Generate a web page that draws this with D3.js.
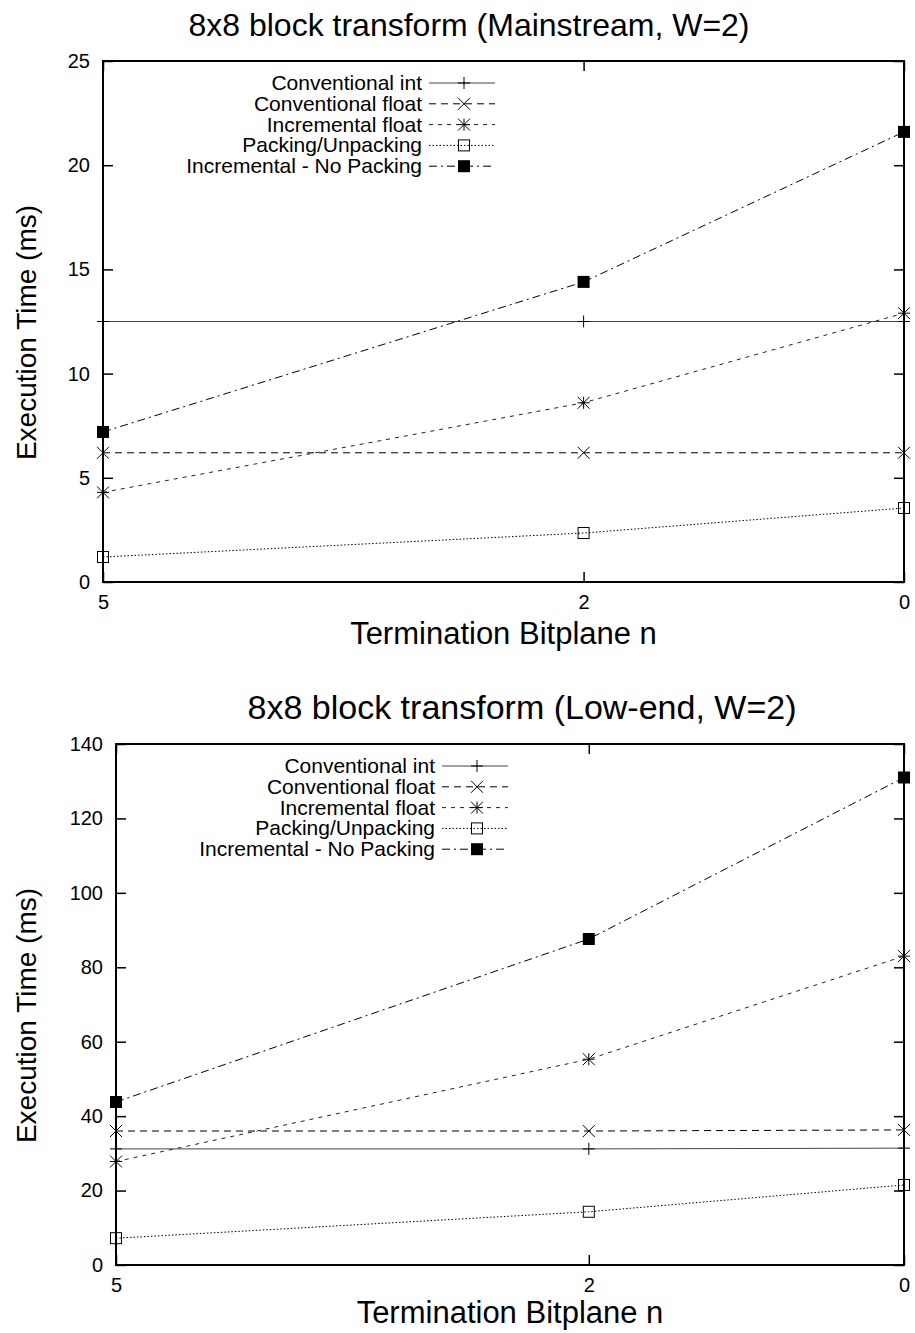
<!DOCTYPE html>
<html><head><meta charset="utf-8">
<script src="https://cdn.jsdelivr.net/npm/d3@7"></script>
<style>body{margin:0;background:#fff}svg{display:block;font-family:"Liberation Sans",Arial,sans-serif}</style>
</head><body><svg id="c" width="915" height="1333"></svg>
<script>
const xValues = [5, 2, 0];
const xTicks = [5, 2, 0];
const seriesNames = ["Conventional int","Conventional float","Incremental float","Packing/Unpacking","Incremental - No Packing"];
const topTitle = "8x8 block transform (Mainstream, W=2)";
const topConvInt = [12.5, 12.5, 12.5];
const topConvFloat = [6.2, 6.2, 6.2];
const topIncrFloat = [4.3, 8.6, 12.9];
const topPacking = [1.2, 2.35, 3.55];
const topIncrNoPack = [7.2, 14.4, 21.6];
const topYTicks = [0,5,10,15,20,25];
const botTitle = "8x8 block transform (Low-end, W=2)";
const botConvInt = [31.2, 31.2, 31.4];
const botConvFloat = [36, 36, 36.3];
const botIncrFloat = [27.8, 55.3, 83];
const botPacking = [7.2, 14.3, 21.5];
const botIncrNoPack = [43.8, 87.6, 131];
const botYTicks = [0,20,40,60,80,100,120,140];

const styles = [
  {dash:null, marker:"plus", stroke:"#444"},
  {dash:"7,5", marker:"cross", stroke:"#000"},
  {dash:"4,5", marker:"star", stroke:"#222"},
  {dash:"1.5,2", marker:"openSquare", stroke:"#000"},
  {dash:"8,4,2,4", marker:"filledSquare", stroke:"#000"}
];

const svg = d3.select("#c");

function marker(g, type, x, y){
  const s = 6;
  if(type==="plus"){
    g.append("path").attr("d",`M${x-s},${y}H${x+s}M${x},${y-s}V${y+s}`).attr("stroke","#000").attr("stroke-width",1).attr("fill","none");
  } else if(type==="cross"){
    g.append("path").attr("d",`M${x-s},${y-s}L${x+s},${y+s}M${x-s},${y+s}L${x+s},${y-s}`).attr("stroke","#000").attr("stroke-width",1).attr("fill","none");
  } else if(type==="star"){
    g.append("path").attr("d",`M${x-s},${y}H${x+s}M${x},${y-s}V${y+s}M${x-s},${y-s}L${x+s},${y+s}M${x-s},${y+s}L${x+s},${y-s}`).attr("stroke","#000").attr("stroke-width",1).attr("fill","none");
  } else if(type==="openSquare"){
    g.append("rect").attr("x",x-5.5).attr("y",y-5.5).attr("width",11).attr("height",11).attr("fill","none").attr("stroke","#000").attr("stroke-width",1);
  } else {
    g.append("rect").attr("x",x-6).attr("y",y-6).attr("width",12).attr("height",12).attr("fill","#000");
  }
}

function chart(opts){
  const {left,right,top,bottom,ymax,yTicks,title,titleX,titleSize,series,titleY,xlabY,legY} = opts;
  const x = d3.scaleLinear().domain([5,0]).range([left,right]);
  const y = d3.scaleLinear().domain([0,ymax]).range([bottom,top]);
  const g = svg.append("g");
  g.append("text").attr("x",titleX).attr("y",titleY).attr("text-anchor","middle").attr("font-size",titleSize).attr("fill","#000").text(title);
  const yl = d3.axisLeft(y).tickValues(yTicks).tickSize(-10).tickPadding(13);
  const ya = g.append("g").attr("transform",`translate(${left},0)`).call(yl);
  const yr = g.append("g").attr("transform",`translate(${right},0)`).call(d3.axisRight(y).tickValues(yTicks).tickSize(-10).tickFormat(""));
  const xb = g.append("g").attr("transform",`translate(0,${bottom})`).call(d3.axisBottom(x).tickValues(xTicks).tickSize(-10).tickPadding(13).tickFormat(d3.format("d")));
  const xt = g.append("g").attr("transform",`translate(0,${top})`).call(d3.axisTop(x).tickValues(xTicks).tickSize(-10).tickFormat(""));
  [ya,yr,xb,xt].forEach(a=>{a.select(".domain").remove();a.selectAll("line").attr("stroke","#000").attr("stroke-width",1.5);a.selectAll("text").attr("font-size",20).attr("fill","#000").attr("font-family","Liberation Sans, Arial, sans-serif");});
  g.append("rect").attr("x",left).attr("y",top).attr("width",right-left).attr("height",bottom-top).attr("fill","none").attr("stroke","#000").attr("stroke-width",2);
  g.append("text").attr("x",(left+right)/2).attr("y",xlabY).attr("text-anchor","middle").attr("font-size",31).attr("fill","#000").text("Termination Bitplane n");
  g.append("text").attr("transform",`translate(36,${(top+bottom)/2 + 11}) rotate(-90)`).attr("text-anchor","middle").attr("font-size",28).attr("fill","#000").text("Execution Time (ms)");
  const line = d3.line().x((d,i)=>x(xValues[i])).y(d=>y(d));
  series.forEach((vals,k)=>{
    const st = styles[k];
    g.append("path").datum(vals).attr("d",line).attr("fill","none").attr("stroke",st.stroke).attr("stroke-width",1).attr("stroke-dasharray",st.dash);
    vals.forEach((v,i)=>marker(g,st.marker,x(xValues[i]),y(v)));
  });
  seriesNames.forEach((n,k)=>{
    const ly = legY + k*20.8;
    const st = styles[k];
    g.append("text").attr("x",left+319).attr("y",ly+7).attr("text-anchor","end").attr("font-size",21).attr("fill","#000").text(n);
    g.append("line").attr("x1",left+326).attr("x2",left+392).attr("y1",ly).attr("y2",ly).attr("stroke",st.stroke).attr("stroke-width",1).attr("stroke-dasharray",st.dash);
    marker(g,st.marker,left+361,ly);
  });
}

chart({left:103,right:904,top:61,bottom:582,ymax:25,yTicks:topYTicks,title:topTitle,titleX:469,titleSize:32,
  series:[topConvInt,topConvFloat,topIncrFloat,topPacking,topIncrNoPack],titleY:36,xlabY:644,legY:83});
chart({left:116,right:904,top:744,bottom:1265,ymax:140,yTicks:botYTicks,title:botTitle,titleX:522,titleSize:34,
  series:[botConvInt,botConvFloat,botIncrFloat,botPacking,botIncrNoPack],titleY:719,xlabY:1323,legY:766});
</script></body></html>
